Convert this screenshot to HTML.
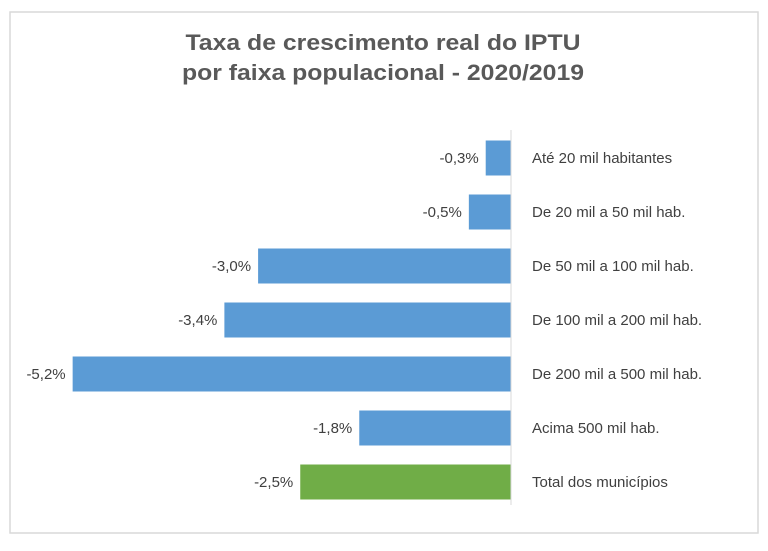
<!DOCTYPE html>
<html><head><meta charset="utf-8"><style>
body{margin:0;background:#fff;}
svg{display:block;font-family:"Liberation Sans",sans-serif;}
</style></head><body>
<svg width="768" height="551">
<rect x="10" y="12" width="748" height="521" fill="#fff" stroke="#d9d9d9" stroke-width="1.5"/>
<text x="383" y="50" text-anchor="middle" font-size="22" font-weight="bold" fill="#595959" textLength="395" lengthAdjust="spacingAndGlyphs">Taxa de crescimento real do IPTU</text>
<text x="383" y="80" text-anchor="middle" font-size="22" font-weight="bold" fill="#595959" textLength="402" lengthAdjust="spacingAndGlyphs">por faixa populacional - 2020/2019</text>
<g id="bars"></g>
<line x1="511" y1="130" x2="511" y2="505" stroke="#d9d9d9" stroke-width="1"/>
</svg>
<script>
const categories=["Até 20 mil habitantes","De 20 mil a 50 mil hab.","De 50 mil a 100 mil hab.","De 100 mil a 200 mil hab.","De 200 mil a 500 mil hab.","Acima 500 mil hab.","Total dos municípios"];
const values=[-0.3,-0.5,-3.0,-3.4,-5.2,-1.8,-2.5];
const valueLabels=["-0,3%","-0,5%","-3,0%","-3,4%","-5,2%","-1,8%","-2,5%"];
const x0=511, pxPerUnit=84.3;
const xScale=v=>x0+v*pxPerUnit;
const yTop=131, band=54, barH=35;
const g=document.getElementById('bars');
const ns="http://www.w3.org/2000/svg";
categories.forEach((c,i)=>{
  const v=values[i];
  const y=yTop+i*band+(band-barH)/2;
  const xl=Math.min(xScale(v),x0), w=Math.abs(xScale(v)-x0);
  const r=document.createElementNS(ns,'rect');
  r.setAttribute('x',xl);r.setAttribute('y',y);r.setAttribute('width',w);r.setAttribute('height',barH);
  r.setAttribute('fill',i===categories.length-1?'#70ad47':'#5b9bd5');
  
  
  g.appendChild(r);
  const t=document.createElementNS(ns,'text');
  t.setAttribute('x',xl-7);t.setAttribute('y',y+barH/2+5);
  t.setAttribute('text-anchor','end');t.setAttribute('font-size','15');t.setAttribute('fill','#404040');
  t.textContent=valueLabels[i];
  
  
  g.appendChild(t);
  const l=document.createElementNS(ns,'text');
  l.setAttribute('x',532);l.setAttribute('y',y+barH/2+5);
  l.setAttribute('font-size','15');l.setAttribute('fill','#404040');
  l.textContent=c;
  
  
  g.appendChild(l);
});
</script>
</body></html>
